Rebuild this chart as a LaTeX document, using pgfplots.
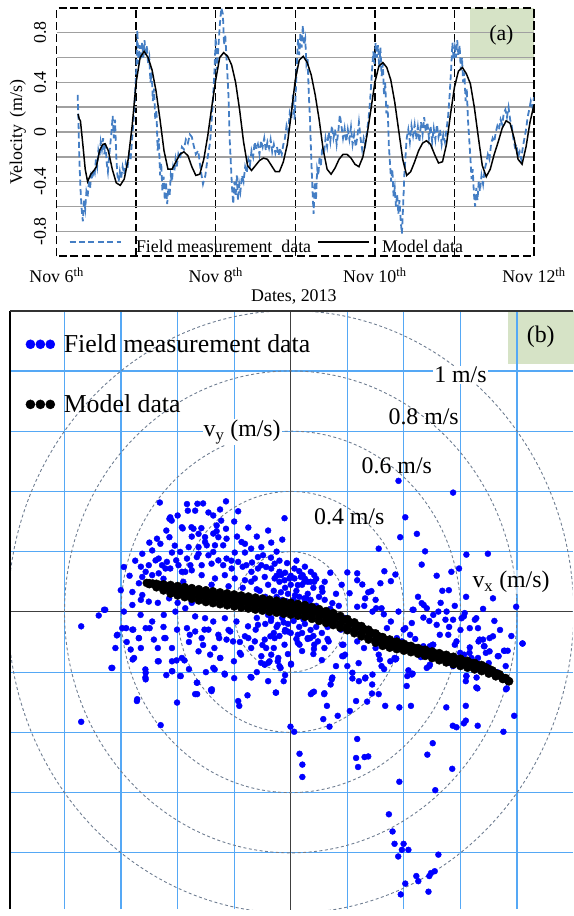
\documentclass[border=0pt]{standalone}
\usepackage{fontspec}
\setmainfont{Liberation Serif}
\usepackage{pgfplots}
\pgfplotsset{compat=1.18}
\definecolor{fieldblue}{RGB}{68,126,196}
\definecolor{gridgray}{RGB}{160,160,160}
\definecolor{gridblue}{RGB}{85,168,245}
\definecolor{circgray}{RGB}{110,125,145}
\definecolor{boxgreen}{RGB}{214,227,198}
\definecolor{ptblue}{RGB}{0,0,255}
\tikzset{circ/.style={circgray, line width=0.9pt, dash pattern=on 3pt off 2.5pt}}
\pgfplotsset{dotlegend/.style={legend image code/.code={\draw[##1,mark size=4.6pt] plot coordinates {(0pt,0pt) (10pt,0pt) (20pt,0pt)};}}}
\begin{document}
\begin{tikzpicture}
\path (0pt,0pt) rectangle (577pt,916pt);
\begin{axis}[
  set layers,
  at={(57pt,658pt)}, anchor=south west,
  scale only axis, width=481pt, height=250pt,
  xmin=6, xmax=12, ymin=-1, ymax=1,
  xtick={6,7,...,12},
  xticklabels={Nov 6\textsuperscript{th},,Nov 8\textsuperscript{th},,Nov 10\textsuperscript{th},,Nov 12\textsuperscript{th}},
  ytick={-0.8,-0.4,0,0.4,0.8},
  yticklabels={-0.8,-0.4,0,0.4,0.8},
  minor ytick={-0.6,-0.2,0.2,0.6},
  xmajorgrids, ymajorgrids, yminorgrids,
  major tick length=0pt, minor tick length=0pt,
  x grid style={black, line width=1.4pt, dash pattern=on 8pt off 4pt},
  y grid style={gridgray, line width=1.4pt},
  axis line style={black, line width=1.4pt, dash pattern=on 8pt off 4pt},
  tick label style={font=\fontsize{18}{20}\selectfont},
  yticklabel style={rotate=90, anchor=south},
  yticklabel shift=7pt,
  xticklabel style={anchor=north, yshift=-8pt},
  xlabel={Dates, 2013}, ylabel={Velocity\, (m/s)},
  every axis x label/.style={at={(axis description cs:0.497,-0.163)}, anchor=center, font=\fontsize{18}{20}\selectfont},
  every axis y label/.style={at={(axis description cs:-0.081,0.5)}, rotate=90, anchor=center, font=\fontsize{18}{20}\selectfont},
  legend style={at={(axis description cs:0.025,0.004)}, anchor=south west, draw=none, fill=none, inner sep=0pt,
    nodes={inner sep=1pt}, legend columns=2, font=\fontsize{18}{20}\selectfont,
    /tikz/column 1/.style={column sep=13pt}, /tikz/column 2/.style={column sep=5pt}, /tikz/column 3/.style={column sep=11pt}},
  legend image code/.code={\draw[#1] (0pt,5pt) -- (52pt,5pt);},
]
\begin{pgfonlayer}{axis background}
\fill[boxgreen] (axis cs:11.19,0.584) rectangle (axis cs:12,1);
\end{pgfonlayer}
\addplot[fieldblue, line width=1.8pt, dash pattern=on 6pt off 3.5pt] coordinates {
(6.265,0.30) (6.275,0.10) (6.285,-0.20) (6.300,-0.45) (6.315,-0.62) (6.330,-0.72) (6.345,-0.55) (6.360,-0.62)
(6.375,-0.48) (6.390,-0.52) (6.405,-0.42) (6.420,-0.46) (6.435,-0.35) (6.450,-0.38) (6.465,-0.30) (6.480,-0.33)
(6.495,-0.22) (6.510,-0.28) (6.525,-0.15) (6.540,-0.20) (6.555,-0.08) (6.570,-0.14) (6.585,-0.05) (6.600,-0.18)
(6.615,-0.10) (6.630,-0.25) (6.645,-0.32) (6.660,-0.20) (6.675,-0.10) (6.690,0.00) (6.705,0.13) (6.720,-0.05)
(6.735,0.10) (6.750,-0.20) (6.765,-0.35) (6.780,-0.40) (6.795,-0.32) (6.810,-0.38) (6.830,-0.28) (6.850,-0.34)
(6.870,-0.25) (6.890,-0.30) (6.910,-0.18) (6.930,-0.22) (6.950,-0.05) (6.970,0.12) (6.990,0.35) (7.005,0.55)
(7.015,0.82) (7.030,0.55) (7.045,0.70) (7.060,0.58) (7.075,0.72) (7.090,0.60) (7.105,0.74) (7.120,0.62)
(7.135,0.70) (7.150,0.55) (7.165,0.60) (7.180,0.40) (7.195,0.48) (7.210,0.25) (7.225,0.35) (7.240,0.10)
(7.255,0.18) (7.270,-0.15) (7.285,-0.05) (7.300,-0.35) (7.315,-0.25) (7.330,-0.48) (7.345,-0.36) (7.360,-0.55)
(7.375,-0.40) (7.390,-0.58) (7.405,-0.45) (7.420,-0.52) (7.435,-0.35) (7.450,-0.40) (7.465,-0.28) (7.480,-0.32)
(7.495,-0.22) (7.510,-0.28) (7.530,-0.18) (7.550,-0.22) (7.575,-0.12) (7.600,-0.14) (7.625,-0.06) (7.650,-0.09)
(7.675,-0.02) (7.700,-0.04) (7.720,-0.10) (7.750,-0.18) (7.780,-0.15) (7.810,-0.30) (7.840,-0.42) (7.870,-0.35)
(7.900,-0.20) (7.930,-0.08) (7.960,0.20) (7.985,0.50) (8.000,0.76) (8.015,0.50) (8.030,0.65) (8.050,0.85)
(8.070,1.00) (8.090,0.95) (8.105,0.70) (8.120,0.78) (8.140,0.55) (8.160,0.30) (8.175,-0.05) (8.190,-0.25)
(8.205,-0.45) (8.220,-0.58) (8.235,-0.40) (8.250,-0.52) (8.265,-0.35) (8.280,-0.55) (8.295,-0.42) (8.310,-0.48)
(8.330,-0.35) (8.350,-0.40) (8.370,-0.28) (8.390,-0.33) (8.410,-0.22) (8.430,-0.27) (8.450,-0.15) (8.470,-0.20)
(8.490,-0.08) (8.510,-0.14) (8.530,-0.10) (8.550,-0.18) (8.570,-0.07) (8.590,-0.12) (8.610,-0.05) (8.630,-0.15)
(8.650,-0.08) (8.670,-0.13) (8.690,-0.06) (8.710,-0.16) (8.730,-0.10) (8.750,-0.17) (8.770,-0.12) (8.790,-0.19)
(8.810,-0.13) (8.830,-0.18) (8.850,-0.10) (8.870,-0.05) (8.890,0.05) (8.910,0.00) (8.930,0.15) (8.950,0.10)
(8.970,0.30) (8.990,0.10) (9.005,0.30) (9.020,0.55) (9.035,0.75) (9.050,0.62) (9.065,0.80) (9.080,0.68)
(9.095,0.86) (9.110,0.70) (9.125,0.75) (9.140,0.55) (9.155,0.60) (9.170,0.30) (9.185,0.10) (9.200,-0.20)
(9.215,-0.45) (9.230,-0.66) (9.245,-0.40) (9.260,-0.55) (9.275,-0.30) (9.290,-0.35) (9.305,-0.20) (9.320,-0.28)
(9.340,-0.12) (9.360,-0.18) (9.380,-0.05) (9.400,-0.12) (9.420,0.00) (9.440,-0.08) (9.460,0.05) (9.480,-0.05)
(9.500,0.02) (9.520,-0.10) (9.540,0.00) (9.560,0.14) (9.580,0.05) (9.600,-0.05) (9.620,0.03) (9.640,-0.08)
(9.660,0.02) (9.680,-0.06) (9.700,0.04) (9.720,-0.10) (9.740,-0.02) (9.760,-0.12) (9.780,-0.04) (9.800,0.08)
(9.820,-0.05) (9.840,-0.14) (9.860,-0.05) (9.880,-0.10) (9.900,0.00) (9.920,0.10) (9.940,0.25) (9.960,0.45)
(9.980,0.65) (9.995,0.55) (10.010,0.72) (10.025,0.60) (10.040,0.70) (10.055,0.52) (10.070,0.68) (10.085,0.45)
(10.100,0.55) (10.115,0.30) (10.130,0.40) (10.145,0.15) (10.160,0.22) (10.175,-0.10) (10.190,-0.25) (10.205,-0.40)
(10.220,-0.30) (10.235,-0.52) (10.250,-0.45) (10.265,-0.60) (10.280,-0.50) (10.295,-0.66) (10.310,-0.55) (10.325,-0.72)
(10.340,-0.82) (10.355,-0.60) (10.370,-0.35) (10.385,-0.20) (10.400,-0.05) (10.420,0.02) (10.440,-0.08) (10.460,0.05)
(10.480,-0.03) (10.500,0.06) (10.520,-0.06) (10.540,0.04) (10.560,-0.08) (10.580,0.08) (10.600,-0.02) (10.620,0.12)
(10.640,0.00) (10.660,0.08) (10.680,-0.05) (10.700,0.05) (10.720,-0.08) (10.740,0.03) (10.760,-0.06) (10.780,0.06)
(10.800,-0.04) (10.820,0.02) (10.840,-0.10) (10.860,-0.02) (10.880,-0.08) (10.900,0.02) (10.920,0.12) (10.940,0.30)
(10.960,0.52) (10.975,0.72) (10.990,0.58) (11.005,0.68) (11.020,0.60) (11.035,0.74) (11.050,0.62) (11.065,0.70)
(11.080,0.50) (11.095,0.60) (11.110,0.40) (11.125,0.48) (11.140,0.25) (11.155,0.35) (11.170,0.10) (11.185,-0.05)
(11.200,-0.20) (11.215,-0.38) (11.230,-0.30) (11.245,-0.50) (11.260,-0.60) (11.275,-0.45) (11.290,-0.55) (11.305,-0.40)
(11.320,-0.48) (11.340,-0.35) (11.360,-0.42) (11.380,-0.30) (11.400,-0.25) (11.420,-0.18) (11.440,-0.22) (11.460,-0.10)
(11.480,-0.05) (11.500,-0.08) (11.520,0.00) (11.540,0.05) (11.560,0.02) (11.580,0.10) (11.600,0.06) (11.620,0.15)
(11.640,0.18) (11.660,0.12) (11.680,0.20) (11.700,0.10) (11.720,0.05) (11.740,-0.05) (11.760,-0.12) (11.780,-0.10)
(11.800,-0.20) (11.820,-0.16) (11.840,-0.22) (11.860,-0.12) (11.880,-0.05) (11.900,0.02) (11.920,0.12) (11.940,0.18)
(11.960,0.25) (11.980,0.20) (12.000,0.28)
};
\addlegendentry{Field measurement\ \ data}
\addplot[black, line width=1.5pt] coordinates {
(6.270,0.145) (6.285,0.105) (6.300,0.090) (6.330,-0.10) (6.360,-0.30) (6.390,-0.40) (6.430,-0.34) (6.470,-0.31)
(6.500,-0.28) (6.540,-0.15) (6.580,-0.10) (6.610,-0.095) (6.650,-0.15) (6.700,-0.30) (6.750,-0.41) (6.800,-0.43)
(6.850,-0.38) (6.900,-0.22) (6.950,0.05) (7.000,0.40) (7.050,0.60) (7.100,0.65) (7.150,0.60) (7.200,0.50)
(7.250,0.33) (7.300,0.10) (7.350,-0.15) (7.400,-0.30) (7.450,-0.30) (7.500,-0.24) (7.550,-0.18) (7.600,-0.16)
(7.650,-0.19) (7.700,-0.28) (7.750,-0.35) (7.800,-0.34) (7.850,-0.22) (7.900,-0.03) (7.950,0.20) (8.000,0.42)
(8.050,0.60) (8.100,0.64) (8.150,0.61) (8.200,0.54) (8.250,0.40) (8.300,0.18) (8.350,-0.08) (8.400,-0.27)
(8.450,-0.31) (8.500,-0.27) (8.550,-0.23) (8.600,-0.21) (8.650,-0.22) (8.700,-0.27) (8.750,-0.32) (8.800,-0.32)
(8.850,-0.24) (8.900,-0.10) (8.950,0.15) (9.000,0.42) (9.050,0.58) (9.100,0.61) (9.150,0.56) (9.200,0.46)
(9.250,0.30) (9.300,0.10) (9.350,-0.14) (9.400,-0.30) (9.450,-0.34) (9.500,-0.29) (9.550,-0.22) (9.600,-0.18)
(9.650,-0.18) (9.700,-0.21) (9.750,-0.26) (9.800,-0.28) (9.850,-0.20) (9.900,-0.03) (9.950,0.18) (10.000,0.40)
(10.050,0.53) (10.100,0.56) (10.150,0.52) (10.200,0.42) (10.250,0.24) (10.300,0.01) (10.350,-0.22) (10.400,-0.35)
(10.450,-0.32) (10.500,-0.24) (10.550,-0.15) (10.600,-0.09) (10.650,-0.07) (10.700,-0.10) (10.750,-0.18) (10.800,-0.25)
(10.850,-0.24) (10.900,-0.10) (10.950,0.14) (11.000,0.36) (11.050,0.49) (11.100,0.52) (11.150,0.47) (11.200,0.39)
(11.250,0.20) (11.300,-0.04) (11.350,-0.27) (11.400,-0.36) (11.450,-0.30) (11.500,-0.18) (11.550,-0.08) (11.600,0.03)
(11.650,0.09) (11.700,0.07) (11.750,-0.05) (11.800,-0.22) (11.850,-0.26) (11.900,-0.12) (11.950,0.08) (12.000,0.22)
};
\addlegendentry{Model data}
\node[font=\fontsize{22}{24}\selectfont] at (axis cs:11.59,0.78) {(a)};
\end{axis}
\begin{axis}[
  set layers,
  at={(10pt,0pt)}, anchor=south west,
  scale only axis, width=567pt, height=603pt,
  xmin=-0.993, xmax=0.997, ymin=-0.987, ymax=1.0,
  xtick={-0.8,-0.6,-0.4,-0.2,0,0.2,0.4,0.6,0.8},
  ytick={-0.8,-0.6,-0.4,-0.2,0,0.2,0.4,0.6,0.8},
  xticklabels={}, yticklabels={},
  major tick length=0pt,
  grid=major, grid style={gridblue, line width=1.2pt},
  axis line style={draw=none},
  after end axis/.append code={
    \draw[black, line width=2.2pt] (rel axis cs:0,0) -- (rel axis cs:0,1);
    \draw[black!80, line width=1.8pt] (rel axis cs:0,1) -- (rel axis cs:1,1);
  },
  legend style={at={(axis description cs:0.028,0.962)}, anchor=north west, draw=none, fill=none, inner sep=0pt,
    nodes={inner sep=1pt}, font=\fontsize{26}{28}\selectfont, row sep=39pt, legend cell align=left,
    /tikz/column 1/.style={column sep=8pt}},
]
\begin{pgfonlayer}{axis background}
\fill[boxgreen] (axis cs:0.768,0.824) rectangle (axis cs:1.0,1.0);
\end{pgfonlayer}
\draw[black!75, line width=1pt] (axis cs:0,-0.99) -- (axis cs:0,1);
\draw[black!75, line width=1pt] (axis cs:-0.993,0) -- (axis cs:1,0);
\draw[circ] (axis cs:0,0) ellipse [x radius=0.2, y radius=0.2];
\draw[circ] (axis cs:0,0) ellipse [x radius=0.4, y radius=0.4];
\draw[circ] (axis cs:0,0) ellipse [x radius=0.6, y radius=0.6];
\draw[circ] (axis cs:0,0) ellipse [x radius=0.8, y radius=0.8];
\draw[circ] (axis cs:0,0) ellipse [x radius=1.0, y radius=1.0];
\addplot[only marks, mark=*, mark size=3pt, color=ptblue, mark options={fill=ptblue, draw=ptblue}, dotlegend] coordinates {
(-0.463,0.363) (-0.367,0.358) (-0.330,0.359) (-0.229,0.367) (-0.364,0.336) (-0.338,0.336) (-0.291,0.330) (-0.274,0.320)
(-0.186,0.334) (-0.022,0.311) (-0.429,0.309) (-0.421,0.303) (-0.246,0.303) (-0.382,0.277) (-0.351,0.281) (-0.316,0.278)
(-0.274,0.260) (-0.262,0.268) (-0.229,0.276) (-0.227,0.243) (-0.473,0.243) (-0.461,0.226) (-0.429,0.248) (-0.303,0.248)
(-0.297,0.221) (-0.361,0.215) (-0.326,0.215) (-0.268,0.221) (-0.174,0.232) (-0.162,0.226) (-0.104,0.215) (-0.069,0.230)
(-0.525,0.193) (-0.490,0.204) (-0.420,0.197) (-0.391,0.199) (-0.467,0.177) (-0.438,0.166) (-0.405,0.171) (-0.367,0.177)
(-0.332,0.182) (-0.315,0.155) (-0.280,0.160) (-0.256,0.171) (-0.239,0.155) (-0.198,0.197) (-0.162,0.197) (-0.137,0.164)
(-0.116,0.182) (-0.098,0.188) (-0.104,0.155) (-0.069,0.144) (-0.040,0.133) (-0.013,0.162) (0.013,0.144) (0.036,0.116)
(0.071,0.133) (-0.590,0.149) (-0.525,0.116) (-0.490,0.122) (-0.467,0.128) (-0.443,0.144) (-0.385,0.133) (-0.350,0.138)
(-0.315,0.122) (-0.268,0.111) (-0.233,0.122) (-0.198,0.111) (-0.162,0.105) (-0.127,0.111) (-0.092,0.116) (-0.057,0.111)
(-0.022,0.105) (0.013,0.111) (0.048,0.100) (-0.601,0.072) (-0.560,0.023) (-0.525,0.056) (-0.502,0.034) (-0.660,0.007)
(-0.590,0.001) (-0.531,-0.010) (-0.490,-0.032) (-0.449,-0.010) (-0.408,0.001) (-0.373,0.012) (-0.338,-0.015) (-0.303,-0.021)
(-0.274,-0.032) (-0.233,-0.021) (-0.192,-0.032) (-0.151,-0.048) (-0.116,-0.043) (-0.613,-0.076) (-0.560,-0.059) (-0.537,-0.087)
(-0.513,-0.054) (-0.484,-0.092) (-0.443,-0.087) (-0.402,-0.059) (-0.367,-0.054) (-0.338,-0.065) (-0.315,-0.087) (-0.291,-0.059)
(-0.256,-0.076) (-0.227,-0.092) (-0.204,-0.098) (-0.162,-0.081) (-0.127,-0.098) (-0.092,-0.092) (-0.057,-0.087) (-0.022,-0.109)
(0.025,-0.103) (-0.566,-0.125) (-0.554,-0.153) (-0.467,-0.164) (-0.420,-0.164) (-0.385,-0.153) (-0.326,-0.131) (-0.285,-0.142)
(-0.250,-0.153) (-0.180,-0.136) (-0.104,-0.147) (-0.075,-0.164) (-0.040,-0.180) (0.001,-0.175) (-0.631,-0.186) (-0.513,-0.202)
(-0.513,-0.224) (-0.420,-0.197) (-0.391,-0.213) (-0.332,-0.235) (-0.274,-0.186) (-0.233,-0.208) (-0.139,-0.218) (-0.338,-0.273)
(-0.280,-0.263) (-0.186,-0.296) (-0.052,-0.268) (0.071,-0.273) (-0.543,-0.290)
(-0.560,0.066) (-0.530,0.040) (-0.470,0.030) (-0.430,0.045) (-0.400,0.030) (-0.350,0.030) (-0.300,0.035) (-0.250,0.025)
(-0.200,0.020) (-0.150,0.010) (-0.450,0.110) (-0.380,0.100) (-0.280,0.090) (-0.220,0.085) (-0.170,0.080) (-0.120,0.075)
(-0.426,0.314) (-0.385,0.281) (-0.344,0.276) (-0.326,0.259) (-0.303,0.232) (-0.262,0.287) (-0.256,0.248) (-0.239,0.221)
(-0.274,0.199) (-0.291,0.188) (-0.326,0.193) (-0.355,0.155) (-0.373,0.133) (-0.397,0.155) (-0.426,0.144) (-0.455,0.155)
(-0.478,0.171) (-0.502,0.155) (-0.513,0.133) (-0.537,0.095) (-0.157,0.155) (-0.139,0.133) (-0.116,0.144) (-0.087,0.149)
(-0.057,0.160) (-0.034,0.122) (-0.005,0.111) (0.025,0.089) (0.060,0.100) (0.083,0.122) (-0.186,0.166) (-0.209,0.144)
(-0.227,0.177) (-0.127,0.034) (-0.092,0.023) (-0.057,0.012) (-0.069,-0.021) (-0.046,-0.043) (-0.011,-0.065) (0.025,-0.076)
(0.060,-0.087) (0.083,-0.109) (-0.087,-0.120) (-0.069,-0.142) (-0.046,-0.164) (-0.092,-0.175)
(-0.400,0.320) (-0.310,0.360) (-0.250,0.340) (-0.200,0.300) (-0.150,0.280) (-0.120,0.250) (-0.080,0.270) (-0.050,0.200)
(-0.030,0.240) (-0.440,0.270) (-0.500,0.230) (-0.550,0.170) (-0.570,0.120) (-0.530,0.150) (-0.410,0.220) (-0.350,0.250)
(-0.190,0.250) (-0.140,0.210) (-0.210,0.170) (-0.170,0.150) (-0.070,0.180) (-0.040,0.170) (0.020,0.170) (0.050,0.150)
(0.090,0.110) (0.120,0.100) (0.140,0.130) (0.180,0.090) (0.170,0.020) (0.190,-0.020) (0.130,-0.090) (-0.020,0.130)
(0.030,0.135) (0.070,0.100)
(-0.450,-0.050) (-0.420,-0.120) (-0.360,-0.100) (-0.310,-0.110) (-0.270,-0.120) (-0.220,-0.060) (-0.180,-0.100) (-0.140,-0.120)
(-0.100,-0.110) (-0.060,-0.120) (-0.010,-0.140) (0.040,-0.130) (0.080,-0.140) (0.110,-0.160) (-0.470,-0.120) (-0.530,-0.120)
(-0.580,-0.100) (-0.620,-0.120) (-0.440,-0.210) (-0.360,-0.190) (-0.300,-0.200) (-0.200,-0.220) (-0.120,-0.200) (-0.080,-0.230)
(-0.020,-0.210)
(0.450,0.050) (0.490,-0.030) (0.530,0.030) (0.580,0.020) (0.620,0.050) (0.680,0.010) (0.720,-0.030) (0.740,-0.060)
(0.780,-0.080) (0.600,-0.060) (0.560,-0.050) (0.440,-0.090) (0.460,-0.150) (0.530,-0.140) (0.580,-0.160) (0.700,-0.170)
(0.730,-0.200) (0.760,-0.180) (0.300,0.040) (0.260,0.020) (0.220,-0.040) (0.250,-0.060) (0.300,-0.120) (0.330,-0.190)
(0.240,-0.170) (0.200,-0.180) (0.160,-0.180)
(0.381,0.435) (0.574,0.396) (0.405,0.314) (0.387,0.248) (0.446,0.259) (0.311,0.210) (0.475,0.201) (0.621,0.190)
(0.697,0.193) (0.463,0.157) (0.516,0.120) (0.536,0.070) (0.568,0.133) (0.595,0.144) (0.200,0.131) (0.235,0.128)
(0.253,0.091) (0.235,0.105) (0.331,0.135) (0.317,0.095) (0.354,0.102) (0.370,0.124) (0.274,0.065) (0.285,0.069)
(0.208,0.062) (0.235,0.017) (0.302,0.012) (0.329,-0.008) (0.381,0.001) (0.434,0.007) (0.463,0.029) (0.481,0.012)
(0.504,-0.010) (0.551,0.001) (0.574,-0.026) (0.615,-0.004) (0.656,-0.021) (0.662,-0.054) (0.668,-0.092) (0.633,-0.054)
(0.604,-0.021) (0.469,-0.019) (0.428,-0.037) (0.399,-0.059) (0.422,-0.076) (0.516,-0.043) (0.527,-0.076) (0.504,-0.109)
(0.557,-0.076) (0.586,-0.098) (0.680,-0.092) (0.685,-0.114) (0.703,-0.131) (0.732,-0.147) (0.756,-0.129) (0.767,-0.129)
(0.820,-0.105) (0.633,-0.118) (0.662,-0.153) (0.668,-0.180) (0.613,-0.142) (0.639,-0.153) (0.574,-0.180) (0.492,-0.175)
(0.481,-0.186) (0.492,-0.114) (0.469,-0.114) (0.340,-0.054) (0.375,-0.087) (0.410,-0.109) (0.311,-0.142) (0.370,-0.158)
(0.352,-0.164) (0.259,-0.120) (0.276,-0.092) (0.182,-0.109) (0.182,-0.147) (0.200,-0.054) (0.235,-0.098) (0.177,-0.059)
(0.147,-0.218) (0.141,-0.241) (0.218,-0.202) (0.241,-0.230) (0.264,-0.218) (0.288,-0.241) (0.311,-0.273) (0.428,-0.208)
(0.410,-0.246) (0.621,-0.213) (0.656,-0.251) (0.761,-0.257) (0.077,-0.268) (0.118,-0.273) (0.042,0.122) (0.083,0.100)
(0.112,0.067) (0.147,0.029) (0.048,0.045)
(-0.741,-0.048) (-0.679,-0.012) (-0.656,0.007) (-0.615,-0.078) (-0.634,-0.186) (-0.741,-0.365) (-0.544,-0.296) (-0.460,-0.376)
(-0.402,-0.301) (-0.331,-0.273) (-0.282,-0.259) (-0.182,-0.312) (-0.153,-0.277) (-0.053,-0.268) (-0.001,-0.381) (0.012,-0.398)
(0.031,-0.471) (0.041,-0.507) (0.041,-0.548) (0.082,-0.265) (0.119,-0.270) (0.145,-0.224) (0.128,-0.312) (0.115,-0.356)
(0.137,-0.381) (0.166,-0.345) (0.209,-0.329) (0.231,-0.296) (0.235,-0.422) (0.231,-0.485) (0.238,-0.515) (0.261,-0.482)
(0.274,-0.480) (0.270,-0.298) (0.287,-0.271) (0.334,-0.312) (0.384,-0.317) (0.425,-0.312) (0.384,-0.564) (0.347,-0.672)
(0.360,-0.729) (0.367,-0.770) (0.399,-0.770) (0.393,-0.790) (0.416,-0.790) (0.380,-0.812) (0.405,-0.902) (0.389,-0.938)
(0.444,-0.877) (0.451,-0.894) (0.490,-0.877) (0.496,-0.867) (0.509,-0.861) (0.487,-0.929) (0.522,-0.806) (0.511,-0.592)
(0.483,-0.474) (0.502,-0.436) (0.571,-0.521) (0.550,-0.317) (0.619,-0.312) (0.573,-0.378) (0.586,-0.383) (0.612,-0.370)
(0.619,-0.361) (0.661,-0.378) (0.752,-0.398) (0.790,-0.345) (0.764,-0.254) (0.819,-0.105) (0.660,-0.254) (0.657,-0.218)
(0.621,-0.213) (0.619,-0.230) (0.664,-0.098) (0.632,-0.136) (0.580,-0.109) (0.599,-0.136) (0.431,-0.205) (0.416,-0.194)
(0.502,-0.109) (0.490,-0.180) (0.321,-0.180) (0.315,-0.158) (0.289,-0.208) (0.263,-0.221) (0.218,-0.221) (0.192,-0.142)
(0.082,-0.123) (0.119,-0.120) (0.096,-0.098) (0.373,-0.155) (0.186,-0.109)
(-0.596,-0.054) (-0.557,-0.059) (-0.537,-0.087) (-0.559,-0.158) (-0.514,-0.191) (-0.514,-0.218) (-0.470,-0.164) (-0.419,-0.197)
(-0.404,-0.161) (-0.389,-0.213) (-0.376,-0.161) (-0.331,-0.235) (-0.279,-0.257) (-0.269,-0.191) (-0.234,-0.205) (-0.249,-0.153)
(-0.201,-0.164) (-0.176,-0.142) (-0.142,-0.216) (-0.105,-0.169) (-0.092,-0.175) (-0.079,-0.169) (-0.044,-0.153) (-0.036,-0.186)
(-0.025,-0.230) (0.001,-0.172)
(-0.582,-0.054) (-0.499,-0.054) (-0.447,-0.087) (-0.357,-0.076) (-0.305,-0.059) (-0.253,-0.087) (-0.214,-0.065) (-0.150,-0.087)
(-0.124,-0.059) (-0.072,-0.081) (-0.021,-0.065) (0.031,-0.109) (0.069,-0.087) (0.134,-0.098) (0.186,-0.147) (0.263,0.045)
(0.289,0.001) (0.321,0.012) (0.431,0.007) (0.470,0.023) (0.522,0.001) (0.547,-0.026) (0.612,-0.015) (0.651,-0.026)
(0.703,-0.087) (0.715,-0.081) (0.754,-0.129) (0.735,-0.147) (0.690,-0.136) (0.683,-0.114) (0.393,-0.098) (0.405,-0.054)
(0.354,-0.032) (0.367,-0.153) (0.412,-0.213) (0.560,-0.169)
(-0.08,0.09) (-0.06,0.07) (-0.04,0.10) (-0.02,0.08) (0.00,0.09) (0.02,0.07) (0.04,0.09) (0.06,0.06) (0.08,0.08) (0.10,0.05)
(-0.09,0.05) (-0.07,0.03) (-0.05,0.05) (-0.03,0.04) (-0.01,0.06) (0.01,0.04) (0.03,0.05) (0.05,0.03) (0.07,0.04) (0.09,0.02)
(0.12,0.04) (0.14,0.01) (-0.10,0.01) (-0.08,-0.01) (-0.06,0.01) (-0.04,0.00) (-0.02,0.02) (0.00,0.01) (0.02,0.00) (0.04,0.02)
(0.06,-0.01) (0.08,0.00) (0.10,-0.02) (0.12,-0.01) (0.15,-0.03) (-0.09,-0.04) (-0.07,-0.03) (-0.05,-0.05) (-0.03,-0.02) (-0.01,-0.04)
(0.01,-0.03) (0.03,-0.05) (0.05,-0.04) (0.07,-0.06) (0.09,-0.05) (0.11,-0.07) (0.13,-0.05) (-0.06,-0.07) (-0.04,-0.08) (-0.02,-0.06)
(0.00,-0.07) (0.02,-0.09) (0.04,-0.07) (0.06,-0.09) (0.08,-0.08) (-0.11,0.07) (-0.13,0.04) (-0.12,-0.02) (-0.14,0.10) (0.00,0.12)
(0.05,0.11) (-0.05,0.12) (0.11,0.08) (0.16,0.06) (-0.015,0.035) (0.015,0.055) (0.035,0.015) (-0.035,0.065) (0.055,0.045) (-0.055,0.025)
(0.025,-0.015) (-0.025,-0.035) (0.045,-0.025) (0.065,0.025)
(0.559,0.072) (0.715,0.045) (0.797,0.017)
};
\addlegendentry{Field measurement data}
\addplot[only marks, mark=*, mark size=4.1pt, color=black, mark options={fill=black, draw=black}, dotlegend] coordinates {
(-0.509,0.096) (-0.500,0.0953) (-0.475,0.0933) (-0.450,0.0913) (-0.425,0.0893) (-0.400,0.0860) (-0.375,0.0824) (-0.350,0.0789)
(-0.325,0.0753) (-0.300,0.0717) (-0.275,0.0683) (-0.250,0.0648) (-0.225,0.0614) (-0.200,0.0579) (-0.175,0.0545) (-0.150,0.0510)
(-0.125,0.0476) (-0.100,0.0441) (-0.075,0.0407) (-0.050,0.0371) (-0.025,0.0336) (0.000,0.0300) (0.025,0.0264) (0.050,0.0227)
(0.075,0.0161) (0.100,0.0094) (0.125,0.0027) (0.150,-0.0039) (0.175,-0.0135) (0.200,-0.0236) (0.225,-0.0348) (0.250,-0.0470)
(0.275,-0.0592) (0.300,-0.0714) (0.325,-0.0836) (0.350,-0.0917) (0.375,-0.0988) (0.400,-0.1059) (0.425,-0.1130) (0.450,-0.1199)
(0.475,-0.1256) (0.500,-0.1312) (0.525,-0.1369) (0.550,-0.1425) (0.575,-0.1489) (0.600,-0.1557) (0.625,-0.1626) (0.650,-0.1695)
(0.675,-0.1763) (0.700,-0.1891) (0.725,-0.2036) (0.750,-0.2182) (0.770,-0.2298)
(-0.500,0.0922) (-0.475,0.0817) (-0.450,0.0712) (-0.425,0.0607) (-0.400,0.0544) (-0.375,0.0489) (-0.350,0.0435) (-0.325,0.0380)
(-0.300,0.0327) (-0.275,0.0290) (-0.250,0.0254) (-0.225,0.0217) (-0.200,0.0181) (-0.175,0.0145) (-0.150,0.0110) (-0.125,0.0076)
(-0.100,0.0041) (-0.075,0.0007) (-0.050,-0.0027) (-0.025,-0.0061) (0.000,-0.0094) (0.025,-0.0128) (0.050,-0.0163) (0.075,-0.0232)
(0.100,-0.0301) (0.125,-0.0370) (0.150,-0.0439) (0.175,-0.0524) (0.200,-0.0611) (0.225,-0.0709) (0.250,-0.0814) (0.275,-0.0919)
(0.300,-0.1024) (0.325,-0.1129) (0.350,-0.1190) (0.375,-0.1239) (0.400,-0.1289) (0.425,-0.1338) (0.450,-0.1391) (0.475,-0.1463)
(0.500,-0.1535) (0.525,-0.1607) (0.550,-0.1678) (0.575,-0.1742) (0.600,-0.1798) (0.625,-0.1854) (0.650,-0.1910) (0.675,-0.1967)
(0.700,-0.2049) (0.725,-0.2140) (0.750,-0.2230) (0.772,-0.2303)
(-0.488,0.0943) (-0.463,0.0894) (-0.438,0.0846) (-0.413,0.0798) (-0.388,0.0755) (-0.363,0.0712) (-0.338,0.0671) (-0.313,0.0629)
(-0.288,0.0587) (-0.263,0.0552) (-0.238,0.0517) (-0.213,0.0482) (-0.188,0.0446) (-0.163,0.0412) (-0.138,0.0377) (-0.113,0.0343)
(-0.088,0.0308) (-0.063,0.0274) (-0.038,0.0238) (-0.013,0.0204) (0.013,0.0169) (0.038,0.0133) (0.063,0.0097) (0.088,0.0030)
(0.113,-0.0038) (0.138,-0.0105) (0.163,-0.0172) (0.188,-0.0265) (0.213,-0.0361) (0.238,-0.0468) (0.263,-0.0585) (0.288,-0.0701)
(0.313,-0.0817) (0.338,-0.0934) (0.363,-0.1008) (0.388,-0.1072) (0.413,-0.1136) (0.438,-0.1199) (0.463,-0.1263) (0.488,-0.1325)
(0.513,-0.1386) (0.538,-0.1448) (0.563,-0.1509) (0.588,-0.1573) (0.613,-0.1637) (0.638,-0.1702) (0.663,-0.1767) (0.688,-0.1831)
(0.713,-0.1944) (0.738,-0.2071) (0.760,-0.2198)
(-0.500,0.0932) (-0.475,0.0856) (-0.450,0.0779) (-0.425,0.0702) (-0.400,0.0649) (-0.375,0.0601) (-0.350,0.0553) (-0.325,0.0504)
(-0.300,0.0457) (-0.275,0.0421) (-0.250,0.0385) (-0.225,0.0349) (-0.200,0.0314) (-0.175,0.0278) (-0.150,0.0243) (-0.125,0.0209)
(-0.100,0.0174) (-0.075,0.0140) (-0.050,0.0106) (-0.025,0.0071) (0.000,0.0037) (0.025,0.0003) (0.050,-0.0033) (0.075,-0.0101)
(0.100,-0.0169) (0.125,-0.0238) (0.150,-0.0306) (0.175,-0.0394) (0.200,-0.0486) (0.225,-0.0589) (0.250,-0.0699) (0.275,-0.0810)
(0.300,-0.0921) (0.325,-0.1031) (0.350,-0.1099) (0.375,-0.1155) (0.400,-0.1212) (0.425,-0.1269) (0.450,-0.1327) (0.475,-0.1394)
(0.500,-0.1461) (0.525,-0.1528) (0.550,-0.1594) (0.575,-0.1658) (0.600,-0.1718) (0.625,-0.1778) (0.650,-0.1838) (0.675,-0.1899)
(0.700,-0.1996) (0.725,-0.2105) (0.750,-0.2214)
};
\addlegendentry{Model data}
\node[font=\fontsize{24}{26}\selectfont, fill=white, inner sep=1pt] at (axis cs:0.600,0.787) {1 m/s};
\node[font=\fontsize{24}{26}\selectfont, inner sep=1pt] at (axis cs:0.470,0.649) {0.8 m/s};
\node[font=\fontsize{24}{26}\selectfont, inner sep=1pt] at (axis cs:0.375,0.484) {0.6 m/s};
\node[font=\fontsize{24}{26}\selectfont, inner sep=1pt] at (axis cs:0.207,0.316) {0.4 m/s};
\node[font=\fontsize{24}{26}\selectfont, fill=white, inner sep=1pt] at (axis cs:-0.172,0.596) {v\textsubscript{y} (m/s)};
\node[font=\fontsize{24}{26}\selectfont, fill=white, fill opacity=0.6, text opacity=1, inner sep=1pt] at (axis cs:0.779,0.099) {v\textsubscript{x} (m/s)};
\node[font=\fontsize{24}{26}\selectfont] at (axis cs:0.884,0.912) {(b)};
\end{axis}
\end{tikzpicture}
\end{document}
